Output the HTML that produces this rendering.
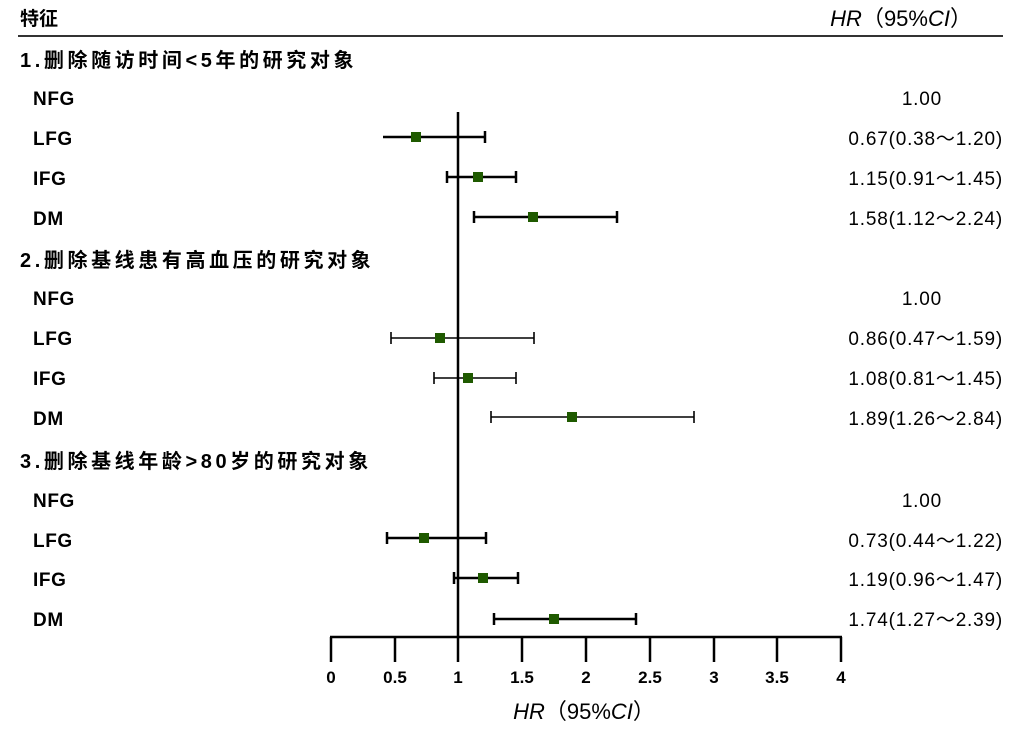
<!DOCTYPE html>
<html><head><meta charset="utf-8"><style>
html,body{margin:0;padding:0;background:#fff;width:1019px;height:737px;overflow:hidden}
svg text{font-family:"Liberation Sans","Noto Sans CJK SC",sans-serif;fill:#000}
.b{font-weight:bold;font-size:20px;letter-spacing:3.6px}
.l{font-size:19px;font-weight:bold;letter-spacing:0.6px}
.v{font-size:19px;text-anchor:end;letter-spacing:0.8px}
.t{font-size:17px;text-anchor:middle;font-weight:bold}
</style></head><body>
<svg width="1019" height="737" xmlns="http://www.w3.org/2000/svg">
<text x="20" y="25" style="font-size:19px;font-weight:bold">特征</text>
<text x="972" y="26" style="font-size:22px;text-anchor:end"><tspan font-style="italic">HR</tspan>（95%<tspan font-style="italic">CI</tspan>）</text>
<line x1="18" y1="36" x2="1003" y2="36" stroke="#333" stroke-width="2"/>
<text x="20" y="67" class="b">1.删除随访时间&lt;5年的研究对象</text>
<text x="20" y="267" class="b">2.删除基线患有高血压的研究对象</text>
<text x="20" y="468" class="b">3.删除基线年龄&gt;80岁的研究对象</text>
<g>
<text x="33" y="105" class="l">NFG</text><text x="33" y="145" class="l">LFG</text><text x="33" y="185" class="l">IFG</text><text x="33" y="225" class="l">DM</text>
<text x="33" y="305" class="l">NFG</text><text x="33" y="345" class="l">LFG</text><text x="33" y="385" class="l">IFG</text><text x="33" y="425" class="l">DM</text>
<text x="33" y="507" class="l">NFG</text><text x="33" y="547" class="l">LFG</text><text x="33" y="586" class="l">IFG</text><text x="33" y="626" class="l">DM</text>
</g>
<g>
<text x="942" y="105" class="v">1.00</text><text x="1003" y="145" class="v">0.67(0.38～1.20)</text><text x="1003" y="185" class="v">1.15(0.91～1.45)</text><text x="1003" y="225" class="v">1.58(1.12～2.24)</text>
<text x="942" y="305" class="v">1.00</text><text x="1003" y="345" class="v">0.86(0.47～1.59)</text><text x="1003" y="385" class="v">1.08(0.81～1.45)</text><text x="1003" y="425" class="v">1.89(1.26～2.84)</text>
<text x="942" y="507" class="v">1.00</text><text x="1003" y="547" class="v">0.73(0.44～1.22)</text><text x="1003" y="586" class="v">1.19(0.96～1.47)</text><text x="1003" y="626" class="v">1.74(1.27～2.39)</text>
</g>
<line x1="458" y1="112" x2="458" y2="638" stroke="#000" stroke-width="2.5"/>
<g stroke="#000" stroke-width="2.5">
<line x1="383" y1="137" x2="485" y2="137"/><line x1="485" y1="131" x2="485" y2="143"/>
<line x1="447" y1="177" x2="516" y2="177"/><line x1="447" y1="171" x2="447" y2="183"/><line x1="516" y1="171" x2="516" y2="183"/>
<line x1="474" y1="217" x2="617" y2="217"/><line x1="474" y1="211" x2="474" y2="223"/><line x1="617" y1="211" x2="617" y2="223"/>
</g>
<g stroke="#000" stroke-width="1.6">
<line x1="391" y1="338" x2="534" y2="338"/><line x1="391" y1="332" x2="391" y2="344"/><line x1="534" y1="332" x2="534" y2="344"/>
<line x1="434" y1="378" x2="516" y2="378"/><line x1="434" y1="372" x2="434" y2="384"/><line x1="516" y1="372" x2="516" y2="384"/>
<line x1="491" y1="417" x2="694" y2="417"/><line x1="491" y1="411" x2="491" y2="423"/><line x1="694" y1="411" x2="694" y2="423"/>
</g>
<g stroke="#000" stroke-width="2.5">
<line x1="387" y1="538" x2="486" y2="538"/><line x1="387" y1="532" x2="387" y2="544"/><line x1="486" y1="532" x2="486" y2="544"/>
<line x1="454" y1="578" x2="518" y2="578"/><line x1="454" y1="572" x2="454" y2="584"/><line x1="518" y1="572" x2="518" y2="584"/>
<line x1="494" y1="619" x2="636" y2="619"/><line x1="494" y1="613" x2="494" y2="625"/><line x1="636" y1="613" x2="636" y2="625"/>
</g>
<g fill="#1f5a00">
<rect x="411" y="132" width="10" height="10"/><rect x="473" y="172" width="10" height="10"/><rect x="528" y="212" width="10" height="10"/>
<rect x="435" y="333" width="10" height="10"/><rect x="463" y="373" width="10" height="10"/><rect x="567" y="412" width="10" height="10"/>
<rect x="419" y="533" width="10" height="10"/><rect x="478" y="573" width="10" height="10"/><rect x="549" y="614" width="10" height="10"/>
</g>
<line x1="330" y1="637" x2="842" y2="637" stroke="#000" stroke-width="2.5"/>
<g stroke="#000" stroke-width="2.5">
<line x1="331" y1="637" x2="331" y2="662"/><line x1="395" y1="637" x2="395" y2="662"/><line x1="458" y1="637" x2="458" y2="662"/><line x1="522" y1="637" x2="522" y2="662"/><line x1="586" y1="637" x2="586" y2="662"/><line x1="650" y1="637" x2="650" y2="662"/><line x1="714" y1="637" x2="714" y2="662"/><line x1="777" y1="637" x2="777" y2="662"/><line x1="841" y1="637" x2="841" y2="662"/>
</g>
<g>
<text x="331" y="683" class="t">0</text><text x="395" y="683" class="t">0.5</text><text x="458" y="683" class="t">1</text><text x="522" y="683" class="t">1.5</text><text x="586" y="683" class="t">2</text><text x="650" y="683" class="t">2.5</text><text x="714" y="683" class="t">3</text><text x="777" y="683" class="t">3.5</text><text x="841" y="683" class="t">4</text>
</g>
<text x="584" y="719" style="font-size:22px;text-anchor:middle"><tspan font-style="italic">HR</tspan>（95%<tspan font-style="italic">CI</tspan>）</text>
</svg>
</body></html>
